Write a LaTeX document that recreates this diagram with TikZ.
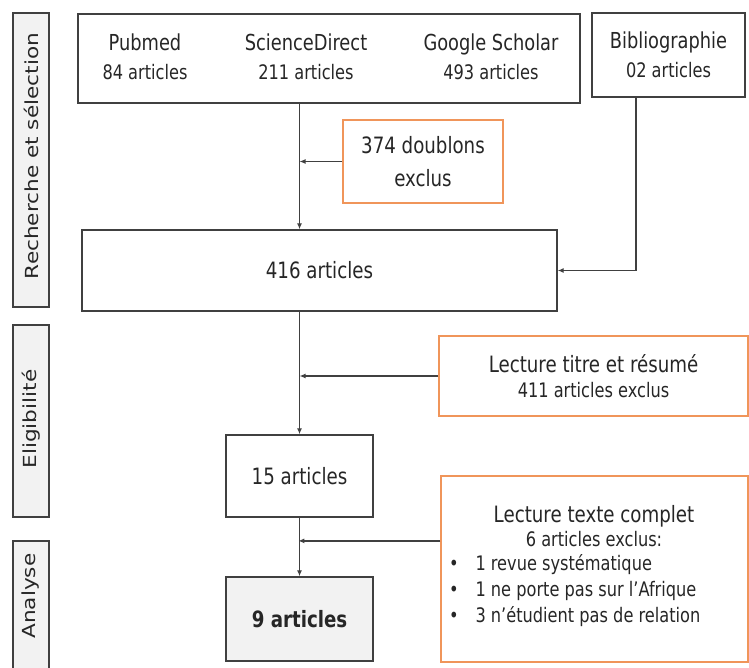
\documentclass[tikz,border=0pt]{standalone}
\usepackage{fontspec}
\setmainfont{DejaVu Sans Condensed}[FakeStretch=0.9]
\newfontfamily\sidefont{DejaVu Sans}[FakeStretch=1.2]
\usetikzlibrary{arrows.meta,calc}

\definecolor{framegray}{HTML}{404040}
\definecolor{fillgray}{HTML}{F2F2F2}
\definecolor{exclorange}{HTML}{F0955A}
\definecolor{inkgray}{HTML}{262626}

\tikzset{
    box/.style={draw=framegray, line width=1.4pt, inner sep=0pt, align=center, text=inkgray},
    excl/.style={box, draw=exclorange},
    phase/.style={box, fill=fillgray, rotate=90},
    phasetext/.style={rotate=90, text=inkgray, font=\sidefont\fontsize{18}{22}\selectfont},
    flow/.style={draw=framegray, line width=1.5pt, -{Latex[length=6pt,width=5pt]}},
    big/.style={text=inkgray, font=\fontsize{22.5}{26}\selectfont},
    small/.style={text=inkgray, font=\fontsize{20}{24}\selectfont},
    twoline/.style={text=inkgray, align=center, font=\fontsize{20}{29}\selectfont}
}

\begin{document}
\begin{tikzpicture}[x=1pt, y=-1pt]
    \useasboundingbox (0,0) rectangle (749,668);

    % phases
    \node[phase, minimum width=294, minimum height=36] (search) at (31,160) {};
    \node[phasetext] (searchtext) at (31,156) {Recherche et sélection};
    \node[phase, minimum width=192, minimum height=36] (elig) at (31,421) {};
    \node[phasetext] (eligtext) at (31,419) {Eligibilité};
    \node[phase, minimum width=160, minimum height=36] (analysis) at (31,621) {};
    \node[phasetext] (analysistext) at (31,596) {Analyse};

    % sources
    \node[box, minimum width=502, minimum height=89] (sources) at (329,58.5) {};
    \node[twoline] (pubmed) at (145,57) {{\fontsize{22}{29}\selectfont Pubmed}\\84 articles};
    \node[twoline] (scidir) at (306,57) {{\fontsize{22}{29}\selectfont ScienceDirect}\\211 articles};
    \node[twoline] (scholar) at (491,57) {{\fontsize{22}{29}\selectfont Google Scholar}\\493 articles};
    \node[box, twoline, minimum width=153, minimum height=84] (biblio) at (668.5,55)
        {{\fontsize{22}{29}\selectfont Bibliographie}\\02 articles};

    \node[excl, big, minimum width=160, minimum height=83] (dupl) at (423,161.5)
        {374 doublons\\[7pt]exclus};
    \node[box, big, minimum width=475, minimum height=81] (merged) at (319.5,270.5) {416 articles};

    % screening
    \node[excl, minimum width=309, minimum height=80, font=\fontsize{20}{25}\selectfont] (abstract) at (593.5,376)
        {{\fontsize{22.5}{25}\selectfont Lecture titre et résumé}\\411 articles exclus};
    \node[box, big, minimum width=147, minimum height=82] (screened) at (299.5,476) {15 articles};

    % full text
    \node[excl, minimum width=307, minimum height=186] (fulltext) at (594.5,569) {};
    \node[big] (fthead) at (594,516) {Lecture texte complet};
    \node[small] (ftcount) at (594,539) {6 articles exclus:};
    \foreach \y/\t in {565/1 revue systématique, 591/1 ne porte pas sur l’Afrique, 617/3 n’étudient pas de relation}{
        \node[small] (dot\y) at (454,\y) {\textbullet};
        \node[small, anchor=west] (item\y) at (472,\y) {\t};
    }
    \node[box, fill=fillgray, minimum width=147, minimum height=84,
        font=\bfseries\fontsize{22.5}{26}\selectfont] (included) at (299.5,619) {9 articles};

    % arrows
    \draw[flow] (sources.south -| screened) -- (merged.north -| screened);
    \draw[flow] (dupl.west) -- (dupl.west -| screened);
    \draw[flow] ($(biblio.south west)!0.29!(biblio.south east)$) |- (merged.east);
    \draw[flow] (merged.south -| screened) -- (screened.north);
    \draw[flow] (abstract.west) -- (abstract.west -| screened);
    \draw[flow] (screened) -- (included);
    \draw[flow] ($(fulltext.north west)!0.35!(fulltext.south west)$) -- ++(-142,0);
\end{tikzpicture}
\end{document}
